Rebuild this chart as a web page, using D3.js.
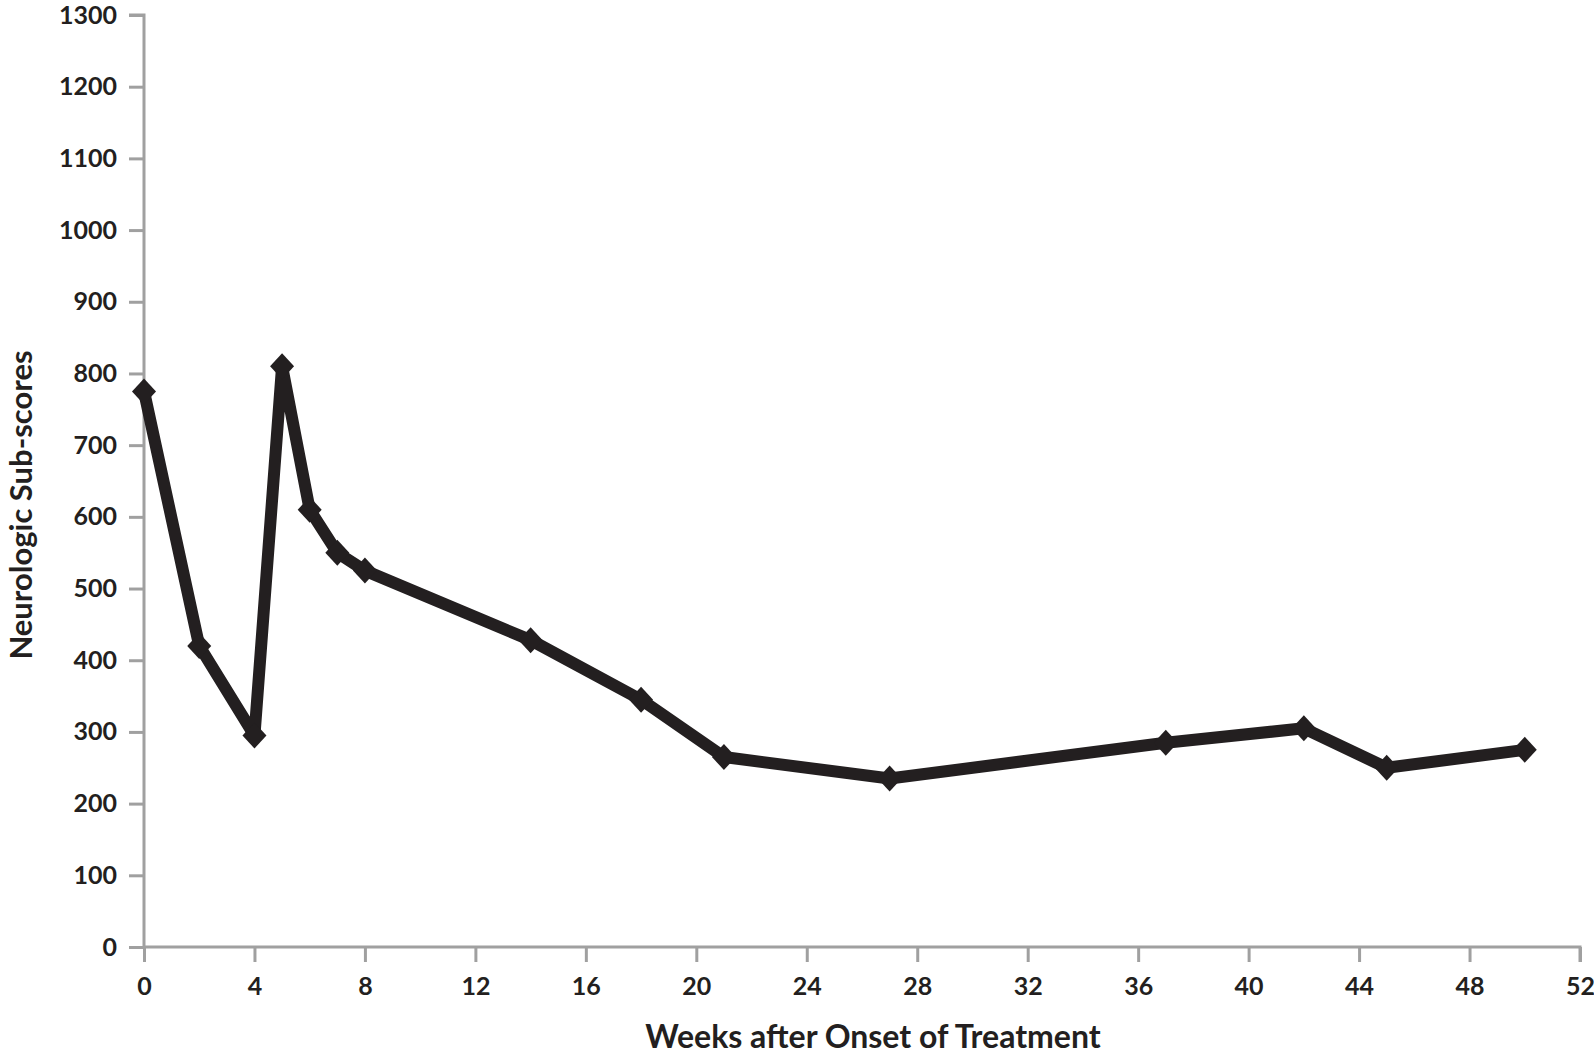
<!DOCTYPE html>
<html>
<head>
<meta charset="utf-8">
<script src="https://cdn.jsdelivr.net/npm/d3@7"></script>
<style>
    body { margin: 0; background: #fff; }
    text { font-family: Lato, "Open Sans", sans-serif; font-weight: bold; fill: #231f20; }
</style>
</head>
<body>
<div id="chart"></div>
<script>
// data
const weeks = [0, 2, 4, 5, 6, 7, 8, 14, 18, 21, 27, 37, 42, 45, 50];
const scores = [775, 420, 295, 810, 610, 550, 525, 428, 345, 265, 235, 285, 305, 250, 275];
const xTicks = d3.range(0, 53, 4);
const yTicks = d3.range(0, 1301, 100);

const width = 1594, height = 1058;
const margin = { top: 15, right: 14, bottom: 111, left: 144 };
const axisColor = '#a0a0a0';
const ink = '#231f20';

const svg = d3.select('#chart').append('svg')
    .attr('width', width)
    .attr('height', height);

const chartW = width - margin.left - margin.right;
const chartH = height - margin.top - margin.bottom;

const x = d3.scaleLinear([0, 52], [0, chartW]);
const y = d3.scaleLinear([0, 1300], [chartH, 0]);

const chart = svg.append('g')
    .attr('transform', `translate(${margin.left},${margin.top})`);

// axes
const axisX = chart.append('g')
    .attr('transform', `translate(0,${chartH})`)
    .call(d3.axisBottom(x).tickValues(xTicks).tickFormat(d3.format('d'))
        .tickSize(15).tickPadding(15).tickSizeOuter(15));
const axisY = chart.append('g')
    .call(d3.axisLeft(y).tickValues(yTicks).tickFormat(d3.format('d'))
        .tickSize(15).tickPadding(12).tickSizeOuter(15));

[axisX, axisY].forEach(a => {
    a.select('.domain').attr('stroke', axisColor).attr('stroke-width', 3);
    a.selectAll('.tick line').attr('stroke', axisColor).attr('stroke-width', 3);
    a.selectAll('.tick text')
        .style('font-family', 'Lato, "Open Sans", sans-serif')
        .style('font-weight', 'bold')
        .style('font-size', '25px')
        .attr('fill', ink);
});
axisX.select('.domain').attr('d', `M0,0H${chartW}V15`);
axisY.select('.domain').attr('d', `M-15,0H0V${chartH}`);

// line
const pts = weeks.map((w, i) => [w, scores[i]]);
chart.append('path')
    .datum(pts)
    .attr('fill', 'none')
    .attr('stroke', ink)
    .attr('stroke-width', 12)
    .attr('stroke-linejoin', 'round')
    .attr('d', d3.line().x(d => x(d[0])).y(d => y(d[1])));

chart.selectAll('path.dot')
    .data(pts)
    .join('path')
    .classed('dot', true)
    .attr('fill', ink)
    .attr('transform', d => `translate(${x(d[0])},${y(d[1])})`)
    .attr('d', 'M0,-13L12,0L0,13L-12,0Z');

// labels
svg.append('text')
    .attr('x', 873)
    .attr('y', 1048)
    .attr('text-anchor', 'middle')
    .style('font-size', '32px')
    .text('Weeks after Onset of Treatment');

svg.append('text')
    .attr('transform', 'rotate(-90)')
    .attr('x', -505)
    .attr('y', 32)
    .attr('text-anchor', 'middle')
    .style('font-size', '31px')
    .text('Neurologic Sub-scores');
</script>
</body>
</html>
